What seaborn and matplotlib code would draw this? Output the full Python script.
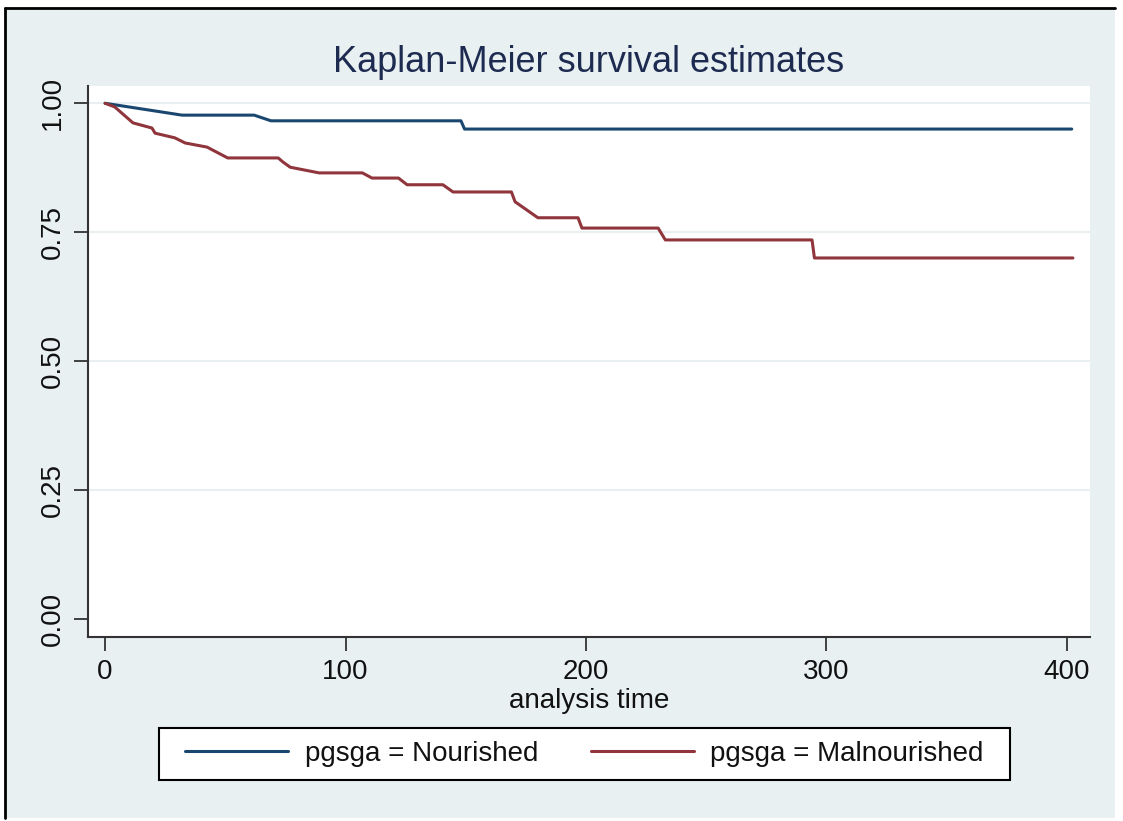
import matplotlib
matplotlib.use("Agg")
import matplotlib.pyplot as plt
import seaborn as sns
import pandas as pd
from matplotlib.patches import Rectangle
from matplotlib.lines import Line2D

# vertices of the survival curves
nourished_time = [0, 32, 62, 69, 148, 149.5, 402]
nourished_surv = [1.0, 0.977, 0.977, 0.966, 0.966, 0.950, 0.950]

malnourished_time = [0, 4, 11.6, 19.5, 20.8, 29, 33.3, 42.4, 51, 72, 74, 77, 89, 107, 111, 122,
                     125.6, 140.5, 144.7, 169, 170.5, 180, 196.7, 198.3, 230, 233, 294, 295, 402.5]
malnourished_surv = [1.0, 0.993, 0.962, 0.952, 0.942, 0.933, 0.923, 0.915, 0.894, 0.894, 0.886,
                     0.876, 0.865, 0.865, 0.855, 0.855, 0.842, 0.842, 0.828, 0.828, 0.809, 0.778,
                     0.778, 0.758, 0.758, 0.735, 0.735, 0.700, 0.700]

groups = ["pgsga = Nourished", "pgsga = Malnourished"]
colors = ["#1A476F", "#90353B"]
x_ticks = [0, 100, 200, 300, 400]
y_ticks = [0.0, 0.25, 0.5, 0.75, 1.0]

df = pd.concat([
    pd.DataFrame({"time": nourished_time, "surv": nourished_surv, "group": groups[0]}),
    pd.DataFrame({"time": malnourished_time, "surv": malnourished_surv, "group": groups[1]}),
])

sns.set_style("white")
plt.rcParams["font.family"] = ["Liberation Sans", "DejaVu Sans"]

bg = "#E8F0F2"
W, H = 1123, 821
fig = plt.figure(figsize=(11.23, 8.21), dpi=100, facecolor="white")

# light background panel with the black frame on top and left
fig.patches.append(Rectangle((5 / W, 3 / H), 1110 / W, 810 / H, transform=fig.transFigure,
                             facecolor=bg, edgecolor="none", zorder=-10))
fig.lines.append(Line2D([5 / W, 5 / W], [3 / H, 1 - 8 / H], transform=fig.transFigure,
                        color="black", lw=2, zorder=-5))
fig.lines.append(Line2D([5 / W, 1115 / W], [1 - 8 / H, 1 - 8 / H], transform=fig.transFigure,
                        color="black", lw=2, zorder=-5))
# legend box
fig.patches.append(Rectangle((159 / W, 1 - 780 / H), 851 / W, 52 / H, transform=fig.transFigure,
                             facecolor="white", edgecolor="black", lw=1.5, zorder=1))

ax = fig.add_axes([88 / W, 1 - 637 / H, (1090 - 88) / W, (637 - 86) / H])
ax.set_zorder(2)
ax.set_facecolor("white")

for g in [0.25, 0.5, 0.75, 1.0]:
    ax.axhline(g, color="#E9EFF1", lw=1.5, zorder=0)

sns.lineplot(data=df, x="time", y="surv", hue="group", palette=colors, sort=False,
             estimator=None, units="group", lw=2.2, ax=ax, legend=False)

ax.set_xlim(-7.1, 409.6)
ax.set_ylim(-0.035, 1.0335)
ax.set_xticks(x_ticks)
ax.set_yticks(y_ticks)
ax.set_yticklabels(["0.00", "0.25", "0.50", "0.75", "1.00"], rotation=90, va="center")
ax.tick_params(axis="both", labelsize=20, length=10, width=1.2, color="#222222",
               labelcolor="#111111", direction="out", left=True, bottom=True, pad=6)
for s in ["top", "right"]:
    ax.spines[s].set_visible(False)
for s in ["left", "bottom"]:
    ax.spines[s].set_color("#333333")
    ax.spines[s].set_linewidth(1.5)

ax.set_xlabel("analysis time", fontsize=20, color="#111111", labelpad=2)
ax.set_ylabel("")
fig.text(589 / W, 1 - 62 / H, "Kaplan-Meier survival estimates", fontsize=26,
         color="#1E2B50", ha="center", va="center")

handles = [Line2D([], [], color=c, lw=2.2) for c in colors]
leg = fig.legend(handles, groups, loc="center", bbox_to_anchor=(584.5 / W, 1 - 754 / H),
                 ncol=2, fontsize=20, frameon=False, handlelength=3.7,
                 handletextpad=0.6, columnspacing=1.9)
leg.set_zorder(3)
for t in leg.get_texts():
    t.set_color("#111111")

fig.savefig("out.png", dpi=100, facecolor=fig.get_facecolor())
